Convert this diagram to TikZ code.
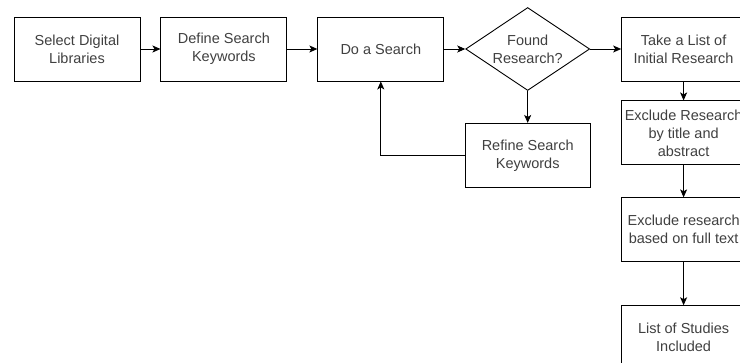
\documentclass[tikz,border=0pt]{standalone}
\usepackage{fontspec}
\setmainfont{Liberation Sans}
\usepackage{xcolor}
\usepackage{tikz}
\usetikzlibrary{shapes.geometric, arrows.meta, positioning}

\begin{document}
\begin{tikzpicture}[
    x=1pt, y=1pt,
    bnode/.style={rectangle, draw=black, fill=white, line width=0.9pt, align=center, inner sep=2pt, minimum width=126pt, minimum height=64pt, text=black!75, font=\fontsize{14.5}{18}\selectfont},
    dnode/.style={diamond, draw=black, fill=white, line width=0.9pt, align=center, inner sep=0pt, aspect=1.7, minimum width=124pt, minimum height=83pt, text=black!75, font=\fontsize{14.5}{18}\selectfont},
    arr/.style={-{Stealth[length=8pt, width=7pt, inset=2pt]}, line width=0.9pt, color=black}
]
\useasboundingbox (0,0) rectangle (740,-363);

\node[bnode] at (77,-49) (sel_lib) {Select Digital\\Libraries};
\node[bnode, right=20pt of sel_lib] (def_kw) {Define Search\\Keywords};
\node[bnode, right=30pt of def_kw] (search) {Do a Search};
\node[dnode, right=21pt of search] (found) {Found\\Research?};
\node[bnode, minimum width=124pt, right=31pt of found] (take_list) {Take a List of\\Initial Research};
\node[bnode, minimum width=124pt, below=19pt of take_list] (excl_title) {Exclude Research\\by title and\\abstract};
\node[bnode, minimum width=124pt, below=32pt of excl_title] (excl_full) {Exclude research\\based on full text};
\node[bnode, minimum width=124pt, below=43pt of excl_full] (studies) {List of Studies\\Included};
\node[bnode, minimum width=125pt, below=32pt of found] (refine) {Refine Search\\Keywords};

\draw[arr] (sel_lib) -- (def_kw);
\draw[arr] (def_kw) -- (search);
\draw[arr] (search) -- (found);
\draw[arr] (found) -- (take_list);
\draw[arr] (found) -- (refine);
\draw[arr] (refine.west) -| (search.south);
\draw[arr] (take_list) -- (excl_title);
\draw[arr] (excl_title) -- (excl_full);
\draw[arr] (excl_full) -- (studies);

\end{tikzpicture}
\end{document}
